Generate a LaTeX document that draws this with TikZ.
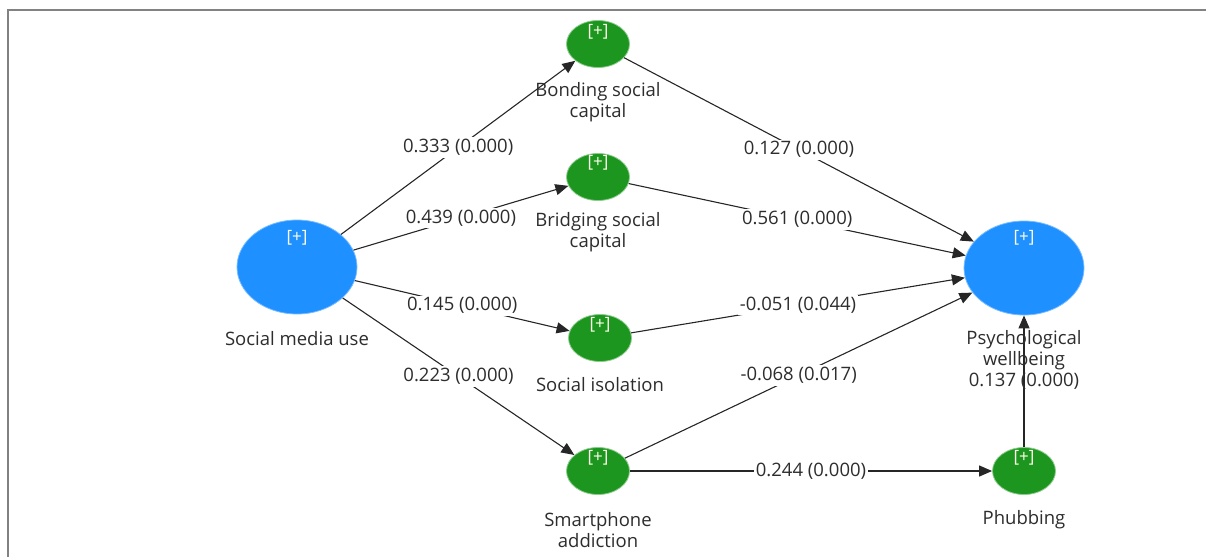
\documentclass[tikz,border=0pt]{standalone}
\usepackage{fontspec}
\setmainfont{Open Sans}
\usetikzlibrary{arrows.meta,shapes.geometric}
\definecolor{blueLV}{RGB}{30,144,255}
\definecolor{greenLV}{RGB}{28,150,30}
\definecolor{txt}{RGB}{45,45,45}
\definecolor{frame}{RGB}{130,130,130}
\tikzset{
  bigvar/.style={ellipse, draw=blueLV!60!white, line width=0.8pt, fill=blueLV, minimum width=120pt, minimum height=94pt, inner sep=0pt},
  smallvar/.style={ellipse, draw=greenLV!50!white, line width=0.8pt, fill=greenLV, minimum width=63pt, minimum height=47pt, inner sep=0pt},
  plus/.style={text=white!92!yellow, font=\fontsize{17}{17}\selectfont, inner sep=0pt},
  lbl/.style={text=txt, font=\fontsize{18.5}{21}\selectfont, align=center, inner sep=0pt},
  path/.style={draw=black!85, line width=1.1pt, -{Triangle[length=13pt,width=11pt]}},
  wt/.style={text=txt, font=\fontsize{18.5}{18.5}\selectfont, fill=white, inner sep=2pt}
}
\begin{document}
\begin{tikzpicture}[x=1pt,y=-1pt]
\useasboundingbox (0,0) rectangle (1206,557);
\draw[frame, line width=1.5pt] (8,557) -- (8,10) -- (1206,10);
% nodes
\node[bigvar] (smu) at (297,267) {};
\node[bigvar] (pw) at (1024,268) {};
\node[smallvar] (bond) at (598,44) {};
\node[smallvar] (bridge) at (598,177) {};
\node[smallvar] (iso) at (600,338) {};
\node[smallvar] (smart) at (598,471) {};
\node[smallvar] (phub) at (1024,471) {};
% plus signs
\node[plus] (psmu) at (297,238) {[+]};
\node[plus] (ppw) at (1024,238) {[+]};
\node[plus] (pbond) at (598,32) {[+]};
\node[plus] (pbridge) at (598,163) {[+]};
\node[plus] (piso) at (600,325) {[+]};
\node[plus] (psmart) at (598,458) {[+]};
\node[plus] (pphub) at (1024,458) {[+]};
% connectors
\draw[path] (smu) -- node[wt] (e1) {0.333 (0.000)} (bond);
\draw[path] (smu) -- node[wt] (e2) {0.439 (0.000)} (bridge);
\draw[path] (smu) -- node[wt] (e3) {0.145 (0.000)} (iso);
\draw[path] (smu) -- node[wt] (e4) {0.223 (0.000)} (smart);
\draw[path] (bond) -- node[wt] (e5) {0.127 (0.000)} (pw);
\draw[path] (bridge) -- node[wt] (e6) {0.561 (0.000)} (pw);
\draw[path] (iso) -- node[wt] (e7) {-0.051 (0.044)} (pw);
\draw[path] (smart) -- node[wt] (e8) {-0.068 (0.017)} (pw);
\draw[path] (smart) -- node[wt] (e9) {0.244 (0.000)} (phub);
\draw[path] (phub) -- (pw);
% labels
\node[lbl] (lsmu) at (297,339) {Social media use};
\node[lbl] (lbond) at (598,102) {Bonding social\\capital};
\node[lbl] (lbridge) at (598,232) {Bridging social\\capital};
\node[lbl] (liso) at (600,385) {Social isolation};
\node[lbl] (lsmart) at (598,530) {Smartphone\\addiction};
\node[lbl] (lpw) at (1024,360) {Psychological\\wellbeing\\0.137 (0.000)};
\node[lbl] (lphub) at (1024,520) {Phubbing};
\end{tikzpicture}
\end{document}
